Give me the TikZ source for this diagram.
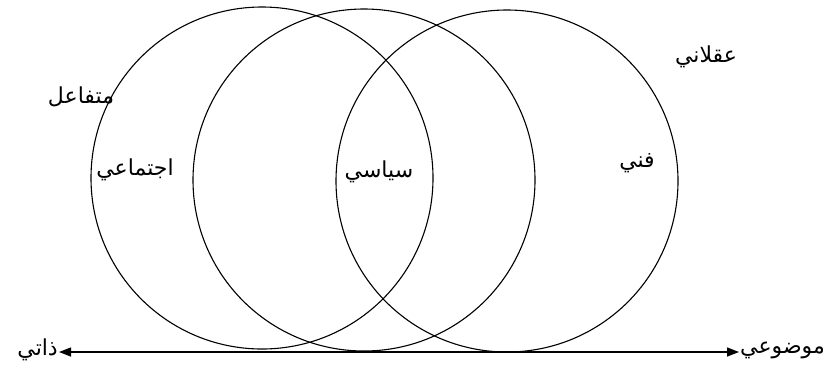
\documentclass[tikz,border=0pt]{standalone}
\usepackage{fontspec}
\usetikzlibrary{arrows.meta}
\TeXXeTstate=1
\newfontfamily\arabicfont[Script=Arabic]{DejaVu Sans}
\tikzset{
  ring/.style={draw, circle, line width=1.1pt, minimum size=342pt, inner sep=0pt},
  lbl/.style={font=\arabicfont\fontsize{22pt}{25pt}\selectfont, inner sep=1pt},
  axis/.style={line width=1.4pt, {Triangle[length=12pt,width=9pt]}-{Triangle[length=12pt,width=9pt]}}
}
\begin{document}
\begin{tikzpicture}[x=1pt,y=-1pt]
\useasboundingbox (0,0) rectangle (840,373);
\node[ring] (c1) at (262,178) {};
\node[ring] (c2) at (364,180) {};
\node[ring] (c3) at (507,181) {};
\node[lbl] (t1) at (81,97) {\beginR متفاعل\endR};
\node[lbl] (t2) at (706,57) {\beginR عقلاني\endR};
\node[lbl] (t3) at (135,170) {\beginR اجتماعي\endR};
\node[lbl] (t4) at (379,172) {\beginR سياسي\endR};
\node[lbl] (t5) at (637,163) {\beginR فني\endR};
\node[lbl, anchor=east] (dh) at (59,350) {\beginR ذاتي\endR};
\node[lbl, anchor=west] (mw) at (739,350) {\beginR موضوعي\endR};
\draw[axis] (dh.east |- 0,352) -- (mw.west |- 0,352);
\end{tikzpicture}
\end{document}
